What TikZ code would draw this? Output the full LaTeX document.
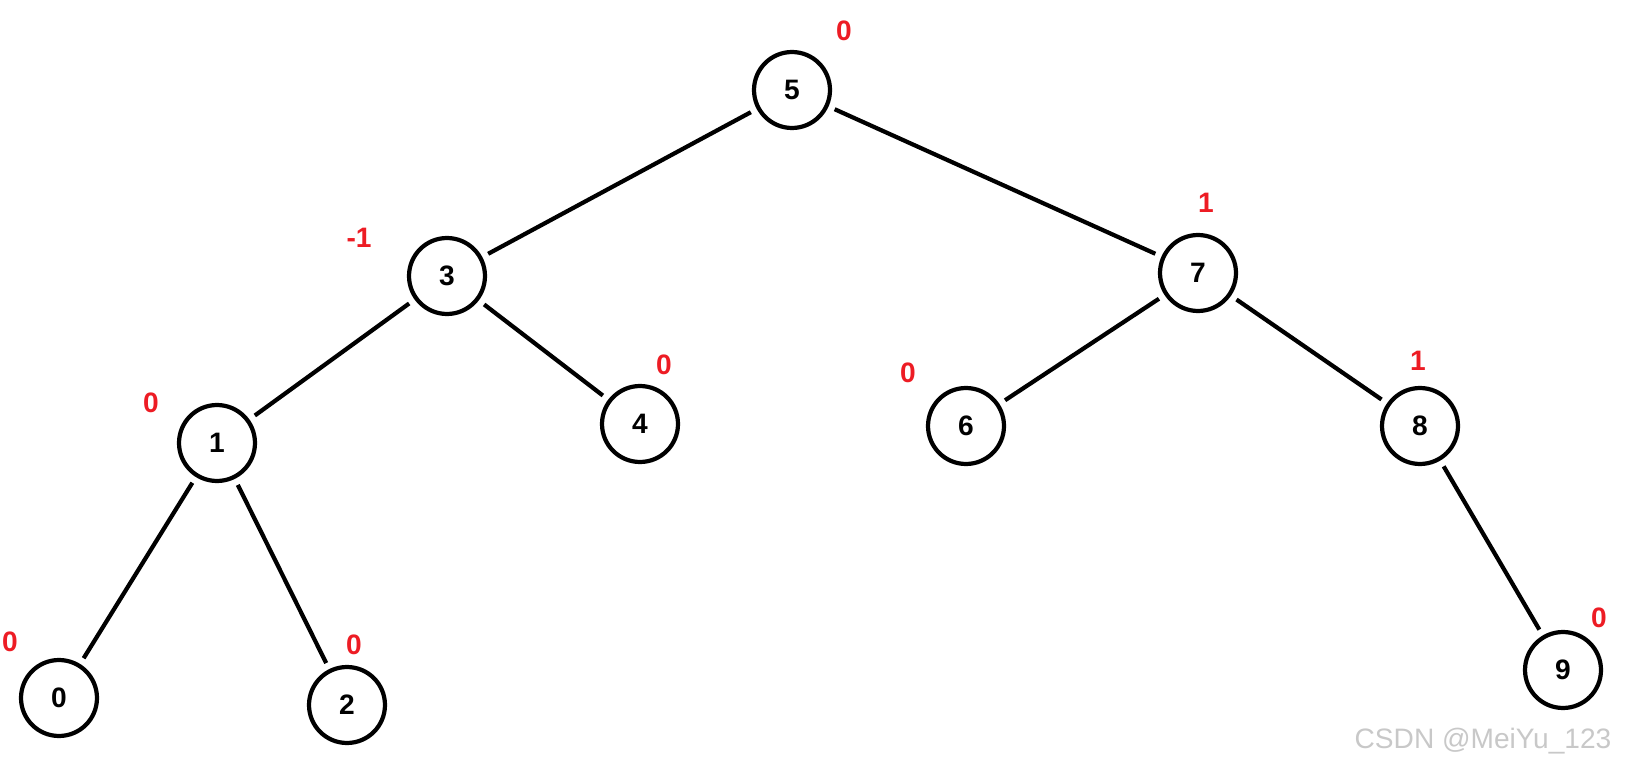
\documentclass[tikz,border=0pt]{standalone}
\usepackage{fontspec}
\setmainfont{Liberation Sans}
\usepackage{tikz}
\usetikzlibrary{positioning}
\definecolor{paintred}{RGB}{237,28,36}
\definecolor{wmgray}{RGB}{200,200,200}

\begin{document}
\begin{tikzpicture}[
  x=0.02cm,y=-0.02cm,
  key/.style={draw,circle,line width=2.4pt,minimum size=1.52cm,inner sep=0pt,outer sep=5pt,font=\fontsize{16}{18}\selectfont\bfseries},
  bf/.style={text=paintred,font=\fontsize{16}{18}\selectfont\bfseries,inner sep=0pt},
  edge/.style={line width=2.4pt}
]
\useasboundingbox (0,0) rectangle (1626,773);
% keys
\node[key] (n5) at (792,90) {5};
\node[key] (n3) at (447,276) {3};
\node[key] (n7) at (1198,273) {7};
\node[key] (n1) at (217,443) {1};
\node[key] (n4) at (640,424) {4};
\node[key] (n6) at (966,426) {6};
\node[key] (n8) at (1420,426) {8};
\node[key] (n0) at (59,698) {0};
\node[key] (n2) at (347,705) {2};
\node[key] (n9) at (1563,670) {9};
% balance factors
\node[bf] (b5) at (844,31) {0};
\node[bf] (b3) at (359,238) {-1};
\node[bf] (b7) at (1206,203) {1};
\node[bf] (b1) at (151,403) {0};
\node[bf] (b4) at (664,365) {0};
\node[bf] (b6) at (908,373) {0};
\node[bf] (b8) at (1418,361) {1};
\node[bf] (b0) at (10,642) {0};
\node[bf] (b2) at (354,645) {0};
\node[bf] (b9) at (1599,618) {0};
% edges
\draw[edge] (n5) -- (n3);
\draw[edge] (n5) -- (n7);
\draw[edge] (n3) -- (n1);
\draw[edge] (n3) -- (n4);
\draw[edge] (n1) -- (n0);
\draw[edge] (n1) -- (n2);
\draw[edge] (n7) -- (n6);
\draw[edge] (n7) -- (n8);
\draw[edge] (n8) -- (n9);
% watermark
\node[text=wmgray,font=\fontsize{16}{18}\selectfont,inner sep=0pt] (wm) at (1483,741) {CSDN @MeiYu\_123};
\end{tikzpicture}
\end{document}
